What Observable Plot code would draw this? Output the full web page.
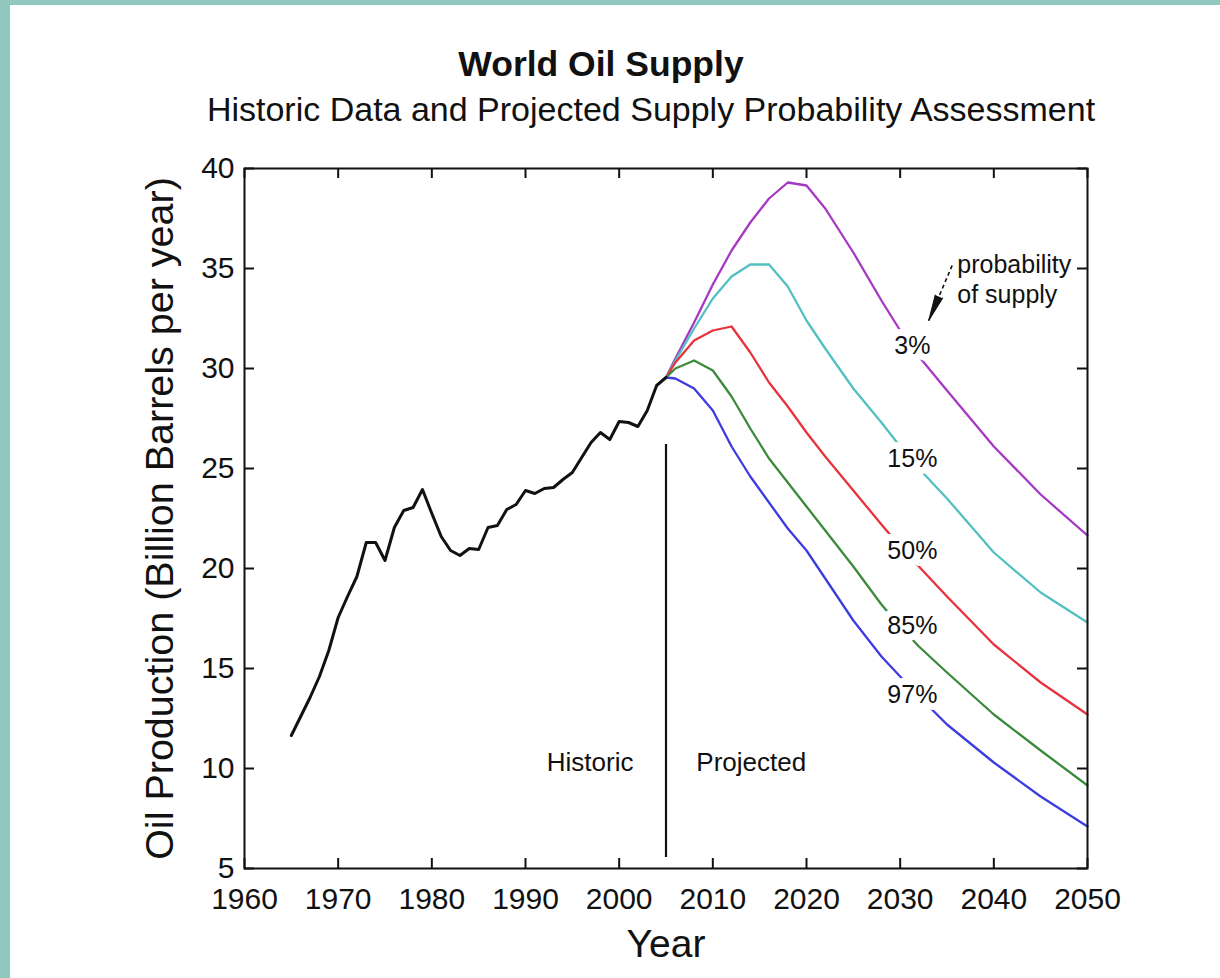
<!DOCTYPE html>
<html>
<head>
<meta charset="utf-8">
<script src="https://cdn.jsdelivr.net/npm/d3@7"></script>
<script src="https://cdn.jsdelivr.net/npm/@observablehq/plot@0.6"></script>
<style>
  html, body { margin: 0; padding: 0; background: #ffffff; }
  #page { position: relative; width: 1220px; height: 978px; overflow: hidden; background: #ffffff;
          font-family: "Liberation Sans", Arial, sans-serif; color: #111; }
  #bordL { position: absolute; left: 0; top: 0; width: 10px; height: 978px; background: #90c8c0; }
  #bordT { position: absolute; left: 0; top: 0; width: 1220px; height: 5px; background: #90c8c0; }
  .ttl { position: absolute; white-space: nowrap; line-height: 1; transform: translateX(-50%); }
  #title { left: 601px; top: 46.5px; font-size: 35.5px; font-weight: bold; }
  #subtitle { left: 651px; top: 91.5px; font-size: 34px; }
  #chart { position: absolute; left: 0; top: 130px; }
</style>
</head>
<body>
<div id="page">
  <div id="bordL"></div>
  <div id="bordT"></div>
  <div id="title" class="ttl">World Oil Supply</div>
  <div id="subtitle" class="ttl">Historic Data and Projected Supply Probability Assessment</div>
  <div id="chart"></div>
</div>
<script>
// ---- axis ticks ----
const xTicks = [1960, 1970, 1980, 1990, 2000, 2010, 2020, 2030, 2040, 2050];
const yTicks = [5, 10, 15, 20, 25, 30, 35, 40];

// ---- historic production (billion barrels per year) ----
const histYears = [1965, 1966, 1967, 1968, 1969, 1970, 1971, 1972, 1973, 1974, 1975, 1976, 1977, 1978, 1979,
                   1980, 1981, 1982, 1983, 1984, 1985, 1986, 1987, 1988, 1989, 1990, 1991, 1992, 1993, 1994,
                   1995, 1996, 1997, 1998, 1999, 2000, 2001, 2002, 2003, 2004, 2005];
const histValues = [11.65, 12.6, 13.55, 14.6, 15.9, 17.55, 18.6, 19.6, 21.3, 21.3, 20.4, 22.05, 22.9, 23.05, 23.95,
                    22.75, 21.6, 20.9, 20.65, 21.0, 20.95, 22.05, 22.15, 22.95, 23.2, 23.9, 23.75, 24.0, 24.05, 24.45,
                    24.8, 25.55, 26.3, 26.8, 26.45, 27.35, 27.3, 27.1, 27.9, 29.15, 29.55];

// ---- projected supply by probability ----
const projYears = [2005, 2006, 2008, 2010, 2012, 2014, 2016, 2018, 2020, 2022, 2025, 2028, 2030, 2032, 2035, 2040, 2045, 2050];
const proj3  = [29.55, 30.5, 32.3, 34.2, 35.9, 37.3, 38.5, 39.3, 39.15, 38.0, 35.8, 33.4, 31.9, 30.6, 28.9, 26.1, 23.7, 21.65];
const proj15 = [29.55, 30.4, 32.0, 33.5, 34.6, 35.2, 35.2, 34.1, 32.4, 31.0, 29.0, 27.3, 26.1, 25.0, 23.5, 20.8, 18.8, 17.3];
const proj50 = [29.55, 30.3, 31.4, 31.9, 32.1, 30.8, 29.3, 28.1, 26.8, 25.6, 23.9, 22.2, 21.1, 20.1, 18.6, 16.2, 14.3, 12.7];
const proj85 = [29.55, 30.0, 30.4, 29.9, 28.6, 27.0, 25.5, 24.3, 23.1, 21.9, 20.1, 18.2, 17.1, 16.1, 14.8, 12.7, 10.9, 9.15];
const proj97 = [29.55, 29.5, 29.0, 27.9, 26.1, 24.6, 23.3, 22.0, 20.9, 19.5, 17.4, 15.6, 14.6, 13.6, 12.2, 10.3, 8.6, 7.1];
const projLabels = ["3%", "15%", "50%", "85%", "97%"];
const projColors = ["#a638c4", "#52c0c0", "#e8323e", "#3c8a3c", "#3c3ce0"];

// ---- annotations ----
const seriesLabelYear = 2031.3;
const seriesLabelValues = [31.15, 25.5, 20.9, 17.15, 13.7];
const dividerYear = 2005;
const dividerRange = [5.55, 26.2];
const periodLabels = ["Historic", "Projected"];
const periodLabelYears = [1996.9, 2014.1];
const periodLabelValue = 10.27;
const noteText = "probability\nof supply";
const notePos = [2036.1, 34.5];
const noteArrow = [2035.55, 35.15, 2033.05, 32.4];

const yLabel = "Oil Production (Billion Barrels per year)";
const xLabel = "Year";

// ---- tables ----
const hist = histYears.map((y, i) => ({year: y, value: histValues[i]}));
const projSeries = [proj3, proj15, proj50, proj85, proj97];
const proj = [];
projSeries.forEach((vals, s) => vals.forEach((v, i) => proj.push({year: projYears[i], value: v, series: projLabels[s]})));
const seriesLabels = projLabels.map((l, i) => ({label: l, year: seriesLabelYear, value: seriesLabelValues[i]}));
const periods = periodLabels.map((l, i) => ({label: l, year: periodLabelYears[i], value: periodLabelValue}));

const frameW = 1087 - 244, frameH = 868 - 168, tickLen = 10;

const chart = Plot.plot({
  width: 1220,
  height: 848,
  marginTop: 38,
  marginBottom: 110,
  marginLeft: 244,
  marginRight: 133,
  x: {domain: [1960, 2050]},
  y: {domain: [5, 40]},
  color: {domain: projLabels, range: projColors},
  style: {fontFamily: "'Liberation Sans', Arial, sans-serif", background: "transparent", color: "#111", overflow: "visible"},
  marks: [
    Plot.axisX({ticks: xTicks, tickSize: 0, tickPadding: 19, fontSize: 30, label: null, tickFormat: d => String(d)}),
    Plot.axisY({ticks: yTicks, tickSize: 0, tickPadding: 10, fontSize: 30, label: null}),
    Plot.tickX(xTicks, {x: d => d, insetTop: frameH - tickLen, stroke: "#111", strokeWidth: 2}),
    Plot.tickX(xTicks, {x: d => d, insetBottom: frameH - tickLen, stroke: "#111", strokeWidth: 2}),
    Plot.tickY(yTicks, {y: d => d, insetRight: frameW - tickLen, stroke: "#111", strokeWidth: 2}),
    Plot.tickY(yTicks, {y: d => d, insetLeft: frameW - tickLen, stroke: "#111", strokeWidth: 2}),
    Plot.line(proj, {x: "year", y: "value", z: "series", stroke: "series", strokeWidth: 2.3}),
    Plot.line(hist, {x: "year", y: "value", stroke: "#111", strokeWidth: 3}),
    Plot.ruleX([dividerYear], {x: d => d, y1: dividerRange[0], y2: dividerRange[1], stroke: "#111", strokeWidth: 2.2}),
    Plot.text(seriesLabels, {x: "year", y: "value", text: "label", fontSize: 25, fill: "#111",
                             stroke: "white", strokeWidth: 14, paintOrder: "stroke"}),
    Plot.text(periods, {x: "year", y: "value", text: "label", fontSize: 26, fill: "#111"}),
    Plot.text([noteText], {x: notePos[0], y: notePos[1], text: d => d, fontSize: 25, fill: "#111",
                           textAnchor: "start", lineHeight: 1.2}),
    Plot.link([noteArrow], {x1: d => d[0], y1: d => d[1], x2: d => d[2], y2: d => d[3],
                            stroke: "#111", strokeWidth: 1.6, strokeDasharray: "4,3"}),
    Plot.vector([noteArrow], {x: d => d[2], y: d => d[3], length: 26, rotate: 203, anchor: "end",
                              shape: "spike", r: 4, fill: "#111", stroke: "#111", strokeWidth: 1}),
    Plot.text([yLabel], {frameAnchor: "left", text: d => d, dx: -84, rotate: -90, fontSize: 39.5, fill: "#111",
                         textAnchor: "middle", lineAnchor: "middle"}),
    Plot.text([xLabel], {frameAnchor: "bottom", text: d => d, dy: 76, fontSize: 39, fill: "#111",
                         textAnchor: "middle", lineAnchor: "middle"}),
    Plot.frame({stroke: "#111", strokeWidth: 2})
  ]
});
document.getElementById("chart").appendChild(chart);
</script>
</body>
</html>
